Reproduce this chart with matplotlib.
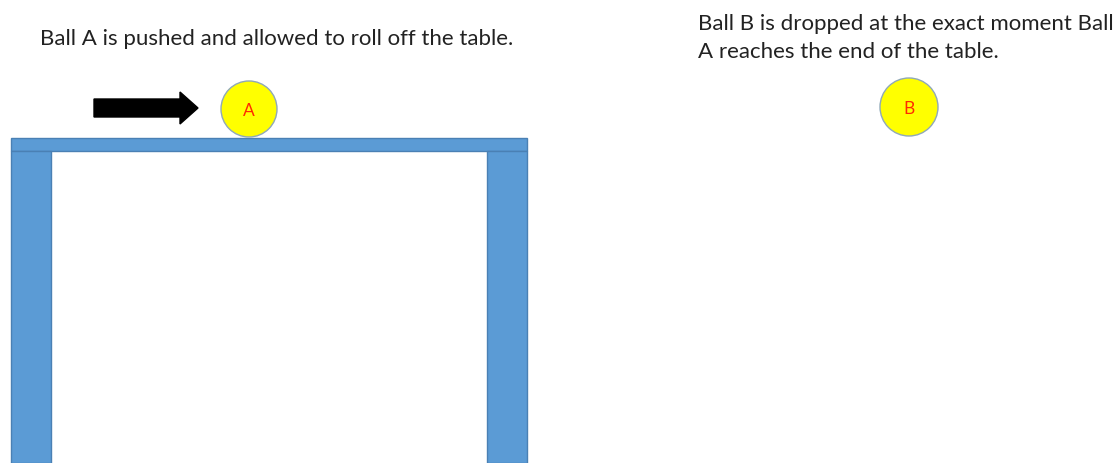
import matplotlib.pyplot as plt
from matplotlib.patches import Rectangle, Circle, FancyArrow

W, H = 1114, 464

# table pieces: (x, y, width, height) in picture pixels
table_parts = [(11, 139, 516, 13), (11, 152, 40, 312), (487, 152, 40, 312)]
ball_labels = ['A', 'B']
ball_x = [249, 909]
ball_y = [110, 108]
ball_r = [28, 29]
caption_lines = ['Ball A is pushed and allowed to roll off the table.',
                 'Ball B is dropped at the exact moment Ball',
                 'A reaches the end of the table.']
caption_x = [40, 698, 698]
caption_base = [45, 30, 58]

fig = plt.figure(figsize=(W / 100, H / 100), dpi=100)
ax = fig.add_axes([0, 0, 1, 1])
ax.set_xlim(0, W)
ax.set_ylim(H, 0)
ax.axis('off')

for x, y, w, h in table_parts:
    ax.add_patch(Rectangle((x, y), w, h, facecolor='#5b9bd5', edgecolor='#4a80b4', lw=1))

# push arrow
ax.add_patch(FancyArrow(94, 109, 86, 0, width=18, head_width=32, head_length=18,
                        length_includes_head=False, color='black'))

for lab, x, y, r in zip(ball_labels, ball_x, ball_y, ball_r):
    ax.add_patch(Circle((x, y), r, facecolor='#ffff00', edgecolor='#8fa8b8', lw=1))
    ax.text(x, y + 1, lab, color='#ff2a00', fontsize=12.5, family='Lato',
            ha='center', va='center')

for t, x, y in zip(caption_lines, caption_x, caption_base):
    ax.text(x, y, t, fontsize=16, family='Lato', color='#222222',
            ha='left', va='baseline')

fig.savefig('out.png', dpi=100)
